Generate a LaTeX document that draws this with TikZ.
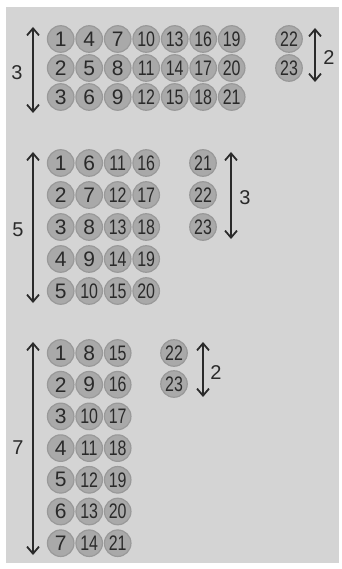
\documentclass[tikz,border=0pt]{standalone}
\usepackage{fontspec}
\setmainfont{Liberation Sans}
\usetikzlibrary{arrows.meta}
\definecolor{bgc}{HTML}{D4D4D4}
\definecolor{ballc}{HTML}{A9A9A9}
\definecolor{balle}{HTML}{999999}
\definecolor{inkc}{HTML}{2A2A2A}
\tikzset{
  ball/.style={circle, fill=ballc, draw=balle, line width=1.2pt, minimum size=26.5pt, inner sep=0pt,
    text=inkc, font=\fontsize{21}{21}\selectfont},
  dimarrow/.style={draw=inkc, line width=1.8pt, {Straight Barb[length=7pt,width=12pt]}-{Straight Barb[length=7pt,width=12pt]}},
  dimlabel/.style={text=inkc, font=\fontsize{20}{20}\selectfont, inner sep=0pt}
}
\newcommand{\ballnum}[1]{\ifnum#1>9 \scalebox{0.76}[1]{#1}\else #1\fi}
\begin{document}
\begin{tikzpicture}[x=1pt,y=-1pt]
\useasboundingbox (0,0) rectangle (341,569);
\fill[white] (0,0) rectangle (341,569);
\fill[bgc] (6,7) rectangle (339,563);
% Section 1
\foreach \i in {0,...,6}{
  \foreach \j in {0,1,2}{
    \pgfmathtruncatemacro{\n}{3*\i+\j+1}
    \node[ball] (a\n) at ({60.7+28.5*\i},{39+29*\j}) {\ballnum{\n}};
  }}
\node[ball] (a22) at (289,39) {\ballnum{22}};
\node[ball] (a23) at (289,68) {\ballnum{23}};
\coordinate (a3t) at (33,27); \coordinate (a3b) at (33,113);
\draw[dimarrow] (a3t) -- (a3b);
\node[dimlabel] (a3l) at (17,73) {3};
\coordinate (a2t) at (315,28); \coordinate (a2b) at (315,82);
\draw[dimarrow] (a2t) -- (a2b);
\node[dimlabel] (a2l) at (329,58) {2};
% Section 2
\foreach \i in {0,...,3}{
  \foreach \j in {0,...,4}{
    \pgfmathtruncatemacro{\n}{5*\i+\j+1}
    \node[ball] (b\n) at ({60.7+28.5*\i},{163+32*\j}) {\ballnum{\n}};
  }}
\foreach \j in {0,1,2}{
  \pgfmathtruncatemacro{\n}{21+\j}
  \node[ball] (b\n) at (203,{163+32*\j}) {\ballnum{\n}};
}
\coordinate (b5t) at (33,152); \coordinate (b5b) at (33,303);
\draw[dimarrow] (b5t) -- (b5b);
\node[dimlabel] (b5l) at (18,230) {5};
\coordinate (b3t) at (231,152); \coordinate (b3b) at (231,239);
\draw[dimarrow] (b3t) -- (b3b);
\node[dimlabel] (b3l) at (245,198) {3};
% Section 3
\foreach \i in {0,...,2}{
  \foreach \j in {0,...,6}{
    \pgfmathtruncatemacro{\n}{7*\i+\j+1}
    \node[ball] (c\n) at ({60.7+28.5*\i},{353+31.7*\j}) {\ballnum{\n}};
  }}
\node[ball] (c22) at (174,353) {\ballnum{22}};
\node[ball] (c23) at (174,384) {\ballnum{23}};
\coordinate (c7t) at (33,342); \coordinate (c7b) at (33,555);
\draw[dimarrow] (c7t) -- (c7b);
\node[dimlabel] (c7l) at (18,448) {7};
\coordinate (c2t) at (203,342); \coordinate (c2b) at (203,397);
\draw[dimarrow] (c2t) -- (c2b);
\node[dimlabel] (c2l) at (216,373) {2};
\end{tikzpicture}
\end{document}
